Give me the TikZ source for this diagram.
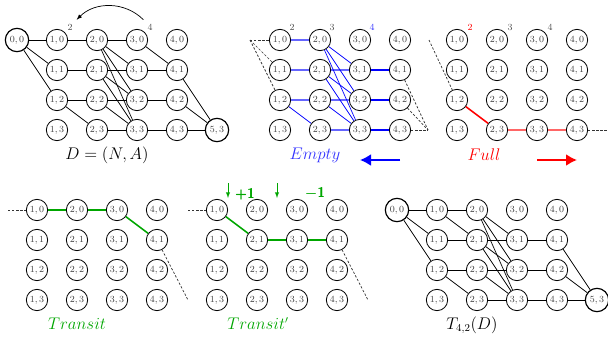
\documentclass[tikz,border=0pt]{standalone}
\usepackage{amsmath}
\usepackage{tikz}
\usetikzlibrary{shapes, arrows, arrows.meta}

\definecolor{pathgreen}{rgb}{0,0.65,0}

\tikzset{
	vtx/.style={circle, draw, line width=0.7pt, minimum size=0.64cm, inner sep=0pt, font=\footnotesize, text=black!75},
	src/.style={vtx, line width=1pt, minimum size=0.7cm},
	cnt/.style={font=\footnotesize, text=black!70},
	lbl/.style={font=\fontsize{13.5}{16}\selectfont},
	arc/.style={line width=0.6pt},
	dsh/.style={line width=0.6pt, dash pattern=on 2pt off 1.5pt, black!80},
	bigarrow/.style={line width=1.7pt, -{Latex[length=3.3mm, width=3.6mm]}}
}

\begin{document}
\begin{tikzpicture}[x=0.03cm, y=-0.03cm]
		\useasboundingbox (0,0) rectangle (608,337);
		% grids of nodes
		\foreach \p/\ox/\oy in {d/17/40, e/240/40, f/417/40, t/-3/210, u/177/210, g/397/210}
			\foreach \i in {1,...,4}
				\foreach \j in {0,...,3}
					\node[vtx] (\p-\i-\j) at (\ox+40*\i, \oy+30*\j) {$\i,\j$};
		\node[src] (d-0-0) at (17,40) {$0,0$};
		\node[src] (d-5-3) at (217,130) {$5,3$};
		\node[src] (g-0-0) at (397,210) {$0,0$};
		\node[src] (g-5-3) at (597,300) {$5,3$};

		% D = (N,A)
		\foreach \a/\b in {0-0/1-0, 0-0/1-1, 0-0/1-2, 1-0/2-0, 1-1/2-1, 1-2/2-2, 1-2/2-3,
			2-0/3-0, 2-0/3-1, 2-0/3-2, 2-0/3-3, 2-1/3-1, 2-1/3-2, 2-1/3-3, 2-2/3-2, 2-2/3-3, 2-3/3-3,
			3-0/4-1, 3-1/4-1, 3-2/4-2, 3-3/4-3, 4-1/5-3, 4-2/5-3, 4-3/5-3}
			\draw[arc] (d-\a) -- (d-\b);
		\node[cnt] (d-c2) at (70,27) {2};
		\node[cnt] (d-c4) at (150,27) {4};
		\draw[arc, -latex] (d-c4.north west) to[bend right=45] (d-c2.north east);
		\node[lbl] (d-lbl) at (107,155) {$D=(N,A)$};

		% Empty
		\coordinate (e-in) at (250,40);
		\coordinate (e-out) at (428,130);
		\foreach \b in {1-0, 1-1, 1-2}
			\draw[dsh] (e-in) -- (e-\b);
		\foreach \a in {4-1, 4-2, 4-3}
			\draw[dsh] (e-\a) -- (e-out);
		\foreach \a/\b in {1-0/2-0, 1-1/2-1, 1-2/2-2, 2-1/3-1, 2-2/3-2, 2-3/3-3}
			\draw[blue!60, line width=1.3pt] (e-\a) -- (e-\b);
		\foreach \a/\b in {1-2/2-3, 2-0/3-1, 2-0/3-2, 2-0/3-3, 2-1/3-2, 2-1/3-3, 2-2/3-3}
			\draw[blue, line width=0.6pt] (e-\a) -- (e-\b);
		\foreach \a/\b in {3-1/4-1, 3-2/4-2, 3-3/4-3}
			\draw[blue, line width=1.6pt] (e-\a) -- (e-\b);
		\node[cnt] at (292,27) {2};
		\node[cnt] at (332,27) {3};
		\node[cnt, text=blue!80] at (372,27) {4};
		\node[lbl, text=blue!80] (e-lbl) at (315,155) {$Empty$};
		\coordinate (e-a) at (400,160);
		\coordinate (e-b) at (360,160);
		\draw[bigarrow, blue] (e-a) -- (e-b);

		% Full
		\coordinate (f-in) at (429,40);
		\coordinate (f-out) at (608,130);
		\draw[dsh] (f-in) -- (f-1-2);
		\draw[dsh] (f-4-3) -- (f-out);
		\draw[red, line width=1.3pt] (f-1-2) -- (f-2-3);
		\draw[red!60, line width=1.3pt] (f-2-3) -- (f-3-3) -- (f-4-3);
		\node[cnt, text=red] at (470,27) {2};
		\node[cnt] at (510,27) {3};
		\node[cnt] at (550,27) {4};
		\node[lbl, text=red] (f-lbl) at (484,155) {$Full$};
		\coordinate (f-a) at (537,160);
		\coordinate (f-b) at (577,160);
		\draw[bigarrow, red] (f-a) -- (f-b);

		% Transit
		\coordinate (t-in) at (8,210);
		\coordinate (t-out) at (188,300);
		\draw[dsh] (t-in) -- (t-1-0);
		\draw[dsh] (t-4-1) -- (t-out);
		\draw[pathgreen, line width=1.3pt] (t-1-0) -- (t-2-0) -- (t-3-0) -- (t-4-1);
		\node[lbl, text=pathgreen] (t-lbl) at (77,324) {$Transit$};

		% Transit'
		\coordinate (u-in) at (188,210);
		\coordinate (u-out) at (368,300);
		\draw[dsh] (u-in) -- (u-1-0);
		\draw[dsh] (u-4-1) -- (u-out);
		\draw[pathgreen, line width=1.3pt] (u-1-0) -- (u-2-1) -- (u-3-1) -- (u-4-1);
		\coordinate (u-a1) at (228,183);
		\coordinate (u-b1) at (228,198);
		\coordinate (u-a2) at (277,183);
		\coordinate (u-b2) at (277,198);
		\draw[pathgreen, line width=0.7pt, -latex] (u-a1) -- (u-b1);
		\draw[pathgreen, line width=0.7pt, -latex] (u-a2) -- (u-b2);
		\node[text=pathgreen, font=\large\sffamily\bfseries] at (245,194) {+1};
		\node[text=pathgreen, font=\large\sffamily\bfseries] at (315,193) {{\boldmath$-$}1};
		\node[lbl, text=pathgreen] (u-lbl) at (258,324) {$Transit'$};

		% T_{4,2}(D)
		\foreach \a/\b in {0-0/1-0, 0-0/1-1, 0-0/1-2, 1-0/2-0, 1-0/2-1, 1-1/2-1, 1-2/2-2, 1-2/2-3,
			2-0/3-1, 2-0/3-2, 2-0/3-3, 2-1/3-1, 2-1/3-2, 2-1/3-3, 2-2/3-2, 2-2/3-3, 2-3/3-3,
			3-1/4-1, 3-2/4-2, 3-3/4-3, 4-1/5-3, 4-2/5-3, 4-3/5-3}
			\draw[arc] (g-\a) -- (g-\b);
		\node[lbl] (g-lbl) at (472,325) {$T_{4,2}(D)$};
\end{tikzpicture}
\end{document}
